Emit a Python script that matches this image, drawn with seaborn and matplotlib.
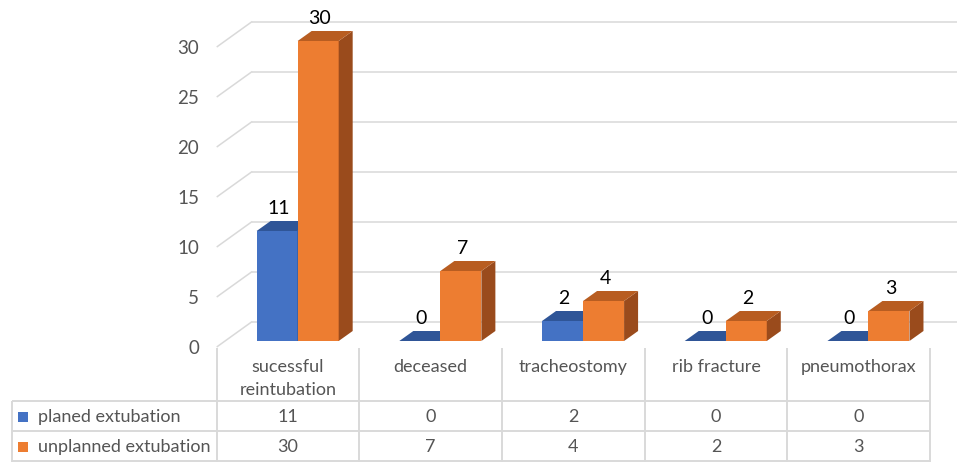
import numpy as np
import pandas as pd
import matplotlib
matplotlib.use("Agg")
import matplotlib.pyplot as plt
import seaborn as sns
from matplotlib.transforms import ScaledTranslation
from matplotlib.patches import Polygon, Rectangle

# ---------------- data ----------------
categories = ["sucessful\nreintubation", "deceased", "tracheostomy", "rib fracture", "pneumothorax"]
series_names = ["planed extubation", "unplanned extubation"]
planned = [11, 0, 2, 0, 0]
unplanned = [30, 7, 4, 2, 3]
y_ticks = [0, 5, 10, 15, 20, 25, 30]

# ---------------- style ----------------
front_colors = ["#4472C4", "#ED7D31"]
top_colors = ["#2F5597", "#B85D21"]
side_colors = ["#28487F", "#9A4B1C"]
grid_color = "#D9D9D9"
text_gray = "#555555"

sns.set_theme(style="white")
plt.rcParams["font.family"] = ["Lato", "DejaVu Sans"]

W, H, DPI = 958, 462, 100
fig = plt.figure(figsize=(W / DPI, H / DPI), dpi=DPI)
fig.patch.set_facecolor("white")

# main plot axes (front plane): x spans the table category columns
x0_px, x1_px = 216.7, 930.2
y0_px = 347.0           # pixel row of value 0 on the front plane
ppu = 10.0              # pixels per value unit
ax = fig.add_axes([x0_px / W, (H - y0_px) / H, (x1_px - x0_px) / W, y0_px / H])
ax.set_facecolor("none")

df = pd.DataFrame({
    "category": categories * 2,
    "series": [series_names[0]] * len(categories) + [series_names[1]] * len(categories),
    "value": planned + unplanned,
})
sns.barplot(data=df, x="category", y="value", hue="series", order=categories,
            hue_order=series_names, palette=front_colors, saturation=1,
            width=0.575, errorbar=None, legend=False, linewidth=0, ax=ax)

ax.set_xlim(-0.5, len(categories) - 0.5)
ax.set_ylim(0, y0_px / ppu)
ux = (x1_px - x0_px) / len(categories)   # pixels per category unit

# 3D depth geometry (pixels)
bar_shift = (9.6, 6.0)    # front face of bars sits a bit inside the floor
bar_depth = (14.0, 10.0)
wall_depth = (35.5, 25.5)

shift_tr = ax.transData + ScaledTranslation(bar_shift[0] / DPI, bar_shift[1] / DPI, fig.dpi_scale_trans)
ddx, ddy = bar_depth[0] / ux, bar_depth[1] / ppu

n = len(categories)
for k, patch in enumerate(list(ax.patches)):
    s = k // n
    patch.set_transform(shift_tr)
    patch.set_zorder(3 + 2 * s)
    x, w, h = patch.get_x(), patch.get_width(), patch.get_height()
    top = Polygon([(x, h), (x + w, h), (x + w + ddx, h + ddy), (x + ddx, h + ddy)],
                  closed=True, facecolor=top_colors[s], edgecolor="none",
                  transform=shift_tr, zorder=3.5 + 2 * s)
    side = Polygon([(x + w, 0), (x + w + ddx, ddy), (x + w + ddx, h + ddy), (x + w, h)],
                   closed=True, facecolor=side_colors[s], edgecolor="none",
                   transform=shift_tr, zorder=3.5 + 2 * s)
    ax.add_patch(side)
    ax.add_patch(top)
    ax.annotate(f"{int(round(h))}", xy=(x + w / 2, h), xycoords=shift_tr,
                xytext=(1.5, 22.5), textcoords="offset pixels",
                ha="center", va="center", fontsize=14, color="#000000",
                zorder=10, annotation_clip=False)

# back wall / side wall gridlines
wdx, wdy = wall_depth[0] / ux, wall_depth[1] / ppu
x_right = (n - 0.5) + (957 - x1_px) / ux
for v in y_ticks:
    ax.plot([-0.5, -0.5 + wdx], [v, v + wdy], color=grid_color, lw=1.1,
            clip_on=False, zorder=0.5, solid_capstyle="butt")
    ax.plot([-0.5 + wdx, x_right], [v + wdy, v + wdy], color=grid_color, lw=1.1,
            clip_on=False, zorder=0.5, solid_capstyle="butt")

ax.set_yticks(y_ticks)
ax.set_yticklabels([str(v) for v in y_ticks])
ax.tick_params(axis="y", length=0, pad=12.5, labelsize=13.5, labelcolor=text_gray)
ax.set_xticks([])
ax.set_xlabel("")
ax.set_ylabel("")
for sp in ax.spines.values():
    sp.set_visible(False)

# ---------------- data table ----------------
tax = fig.add_axes([0, 0, 1, 1])
tax.set_xlim(0, W)
tax.set_ylim(H, 0)
tax.axis("off")
tax.set_zorder(-1)

col_edges = [x0_px + ux * i for i in range(n + 1)]
row_y = [401, 431, 461.3]
left_px = 12
lw_tab = 1.4
for xe in col_edges:
    tax.plot([xe, xe], [348, 462], color=grid_color, lw=lw_tab, solid_capstyle="butt")
tax.plot([left_px, left_px], [row_y[0], 462], color=grid_color, lw=lw_tab, solid_capstyle="butt")
for yr in row_y:
    tax.plot([left_px, col_edges[-1]], [yr, yr], color=grid_color, lw=lw_tab, solid_capstyle="butt")

fs_tab = 13.0
for i, cat in enumerate(categories):
    cx = x0_px + ux * (i + 0.5)
    for j, line in enumerate(cat.split("\n")):
        tax.text(cx, 367 + 23 * j, line, ha="center", va="center",
                 fontsize=fs_tab, color=text_gray)

row_centers = [416.7, 447.3]
for r, (name, vals) in enumerate(zip(series_names, [planned, unplanned])):
    yc = row_centers[r]
    tax.add_patch(Rectangle((18.3, yc - 5), 10, 10, facecolor=front_colors[r], edgecolor="none"))
    tax.text(38.3, yc, name, ha="left", va="center", fontsize=fs_tab, color=text_gray)
    for i, v in enumerate(vals):
        cx = x0_px + ux * (i + 0.5)
        tax.text(cx, yc, str(v), ha="center", va="center", fontsize=fs_tab, color=text_gray)

fig.savefig("out.png", dpi=DPI, facecolor="white")
